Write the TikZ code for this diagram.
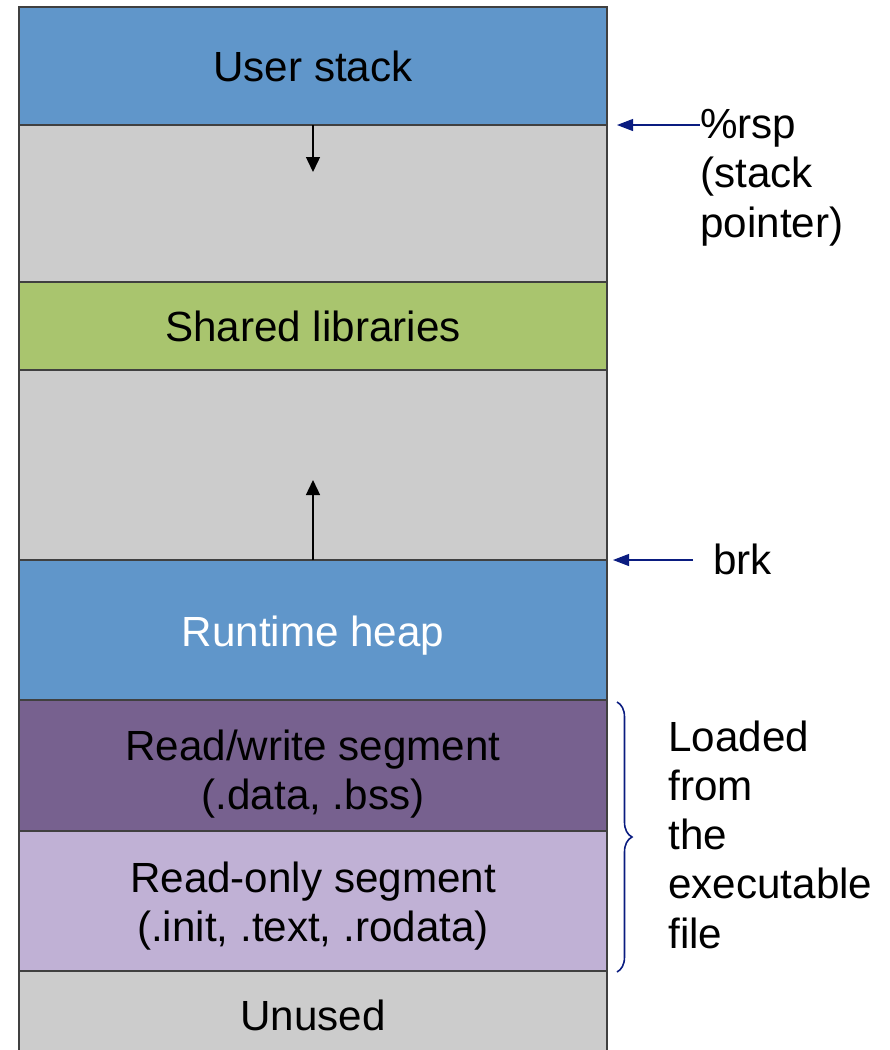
\documentclass[tikz,border=0pt]{standalone}
\usepackage{fontspec}
\setmainfont{Liberation Sans}
\usepackage{tikz}
\usetikzlibrary{arrows.meta,positioning,decorations.pathreplacing}
\definecolor{stackblue}{RGB}{96,150,202}
\definecolor{gapgrey}{RGB}{204,204,204}
\definecolor{libgreen}{RGB}{169,197,110}
\definecolor{rwpurple}{RGB}{119,97,143}
\definecolor{ropurple}{RGB}{192,177,213}
\definecolor{ptrnavy}{RGB}{10,28,128}
\definecolor{edgegrey}{RGB}{64,64,64}
\tikzset{
	segment/.style = {draw = edgegrey, line width = 0.7pt, minimum width = 11.76cm, inner sep = 0pt, outer sep = 0pt, align = center, font = \fontsize{24}{28}\selectfont},
	sidelabel/.style = {inner sep = 0pt, align = left, font = \fontsize{24}{28}\selectfont},
	ptr/.style = {-{Triangle[length=0.32cm,width=0.24cm]}, draw = ptrnavy, line width = 0.6pt},
	growarrow/.style = {-{Triangle[length=0.3cm,width=0.28cm]}, line width = 0.8pt}
}
\begin{document}
\begin{tikzpicture}
		\useasboundingbox (0,0) rectangle (17.8,-21);
		\node [segment, fill = stackblue, minimum height = 2.36cm, anchor = north west](ustack) at (0.38,-0.14) {User stack};
		\node [segment, fill = gapgrey, minimum height = 3.14cm, below = 0pt of ustack](gap1) {};
		\node [segment, fill = libgreen, minimum height = 1.76cm, below = 0pt of gap1](shlib) {Shared libraries};
		\node [segment, fill = gapgrey, minimum height = 3.8cm, below = 0pt of shlib](gap2) {};
		\node [segment, fill = stackblue, minimum height = 2.8cm, below = 0pt of gap2, text = white](heap) {\rule{0pt}{0.85cm}Runtime heap};
		\node [segment, fill = rwpurple, minimum height = 2.62cm, below = 0pt of heap](rwseg) {\rule{0pt}{0.95cm}Read/write segment\\(.data, .bss)};
		\node [segment, fill = ropurple, minimum height = 2.8cm, below = 0pt of rwseg](roseg) {\rule{0pt}{0.8cm}Read-only segment\\(.init, .text, .rodata)};
		\node [segment, fill = gapgrey, minimum height = 1.76cm, below = 0pt of roseg](unused) {Unused};
		\draw [growarrow] (ustack.south) -- ++(0,-0.94);
		\draw [growarrow] (heap.north) -- ++(0,1.6);
		\coordinate (rsp_from) at ([xshift=1.86cm]ustack.south east);
		\coordinate (brk_from) at ([xshift=1.72cm]heap.north east);
		\draw [ptr] (rsp_from) -- ([xshift=0.2cm]ustack.south east);
		\node [sidelabel, anchor = base west](rsp) at (14.0,-4.74) {\%rsp\\(stack\\pointer)};
		\draw [ptr] (brk_from) -- ([xshift=0.12cm]heap.north east);
		\node [sidelabel, anchor = base west](brk) at (14.26,-11.48) {brk};
		\draw [decorate, decoration = {brace, amplitude = 0.3cm}, draw = ptrnavy, line width = 0.9pt] ([xshift=0.2cm,yshift=-0.04cm]rwseg.north east) -- ([xshift=0.2cm,yshift=-0.02cm]roseg.south east);
		\node [sidelabel, anchor = base west](loaded) at (13.36,-18.96) {Loaded\\from\\the\\executable\\file};
		\end{tikzpicture}
\end{document}
